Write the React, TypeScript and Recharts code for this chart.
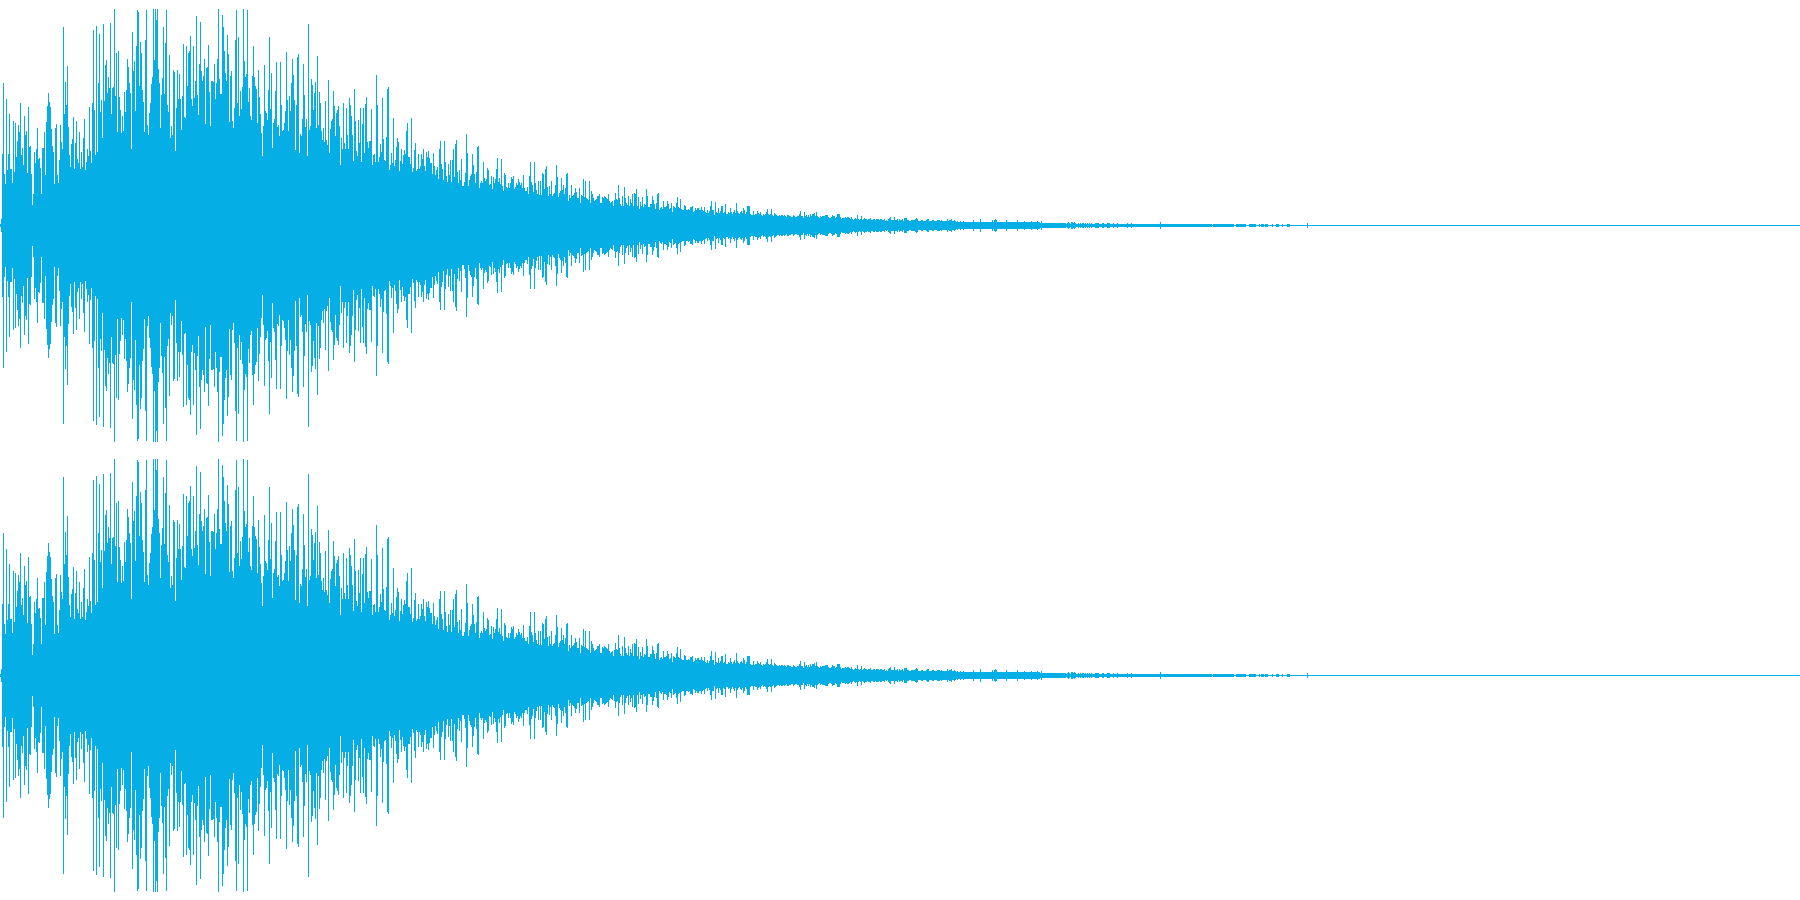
import { BarChart, Bar, XAxis, YAxis } from 'recharts';

// Peak amplitude of each pixel column. Both channels look the same.
const attack = [
  1, 6, 71, 142, 51, 41, 126, 55, 71, 111, 56, 56, 42, 104, 53, 102, 68, 84, 100, 93,
  122, 70, 77, 60, 109, 90, 94, 52, 118, 78, 79, 51, 20, 31, 73, 62, 76, 97, 66, 67,
  57, 31, 77, 77, 93, 50, 103, 119, 132, 123, 118, 96, 79, 73, 41, 97, 101, 50, 42, 65,
  100, 83, 76, 198, 111, 143, 120, 159, 98, 70, 58, 81, 86, 108, 56, 82, 104, 66, 62, 93,
  56, 73, 58, 87, 106, 55, 63, 76, 69, 118, 74, 62, 122, 195, 115, 70, 199, 73, 142, 191,
  113, 125, 87, 201, 124, 160, 165, 132, 148, 137, 202, 111, 137, 138, 216, 129, 172, 93, 174, 128,
  115, 92, 109, 94, 133, 113, 135, 166, 158, 142, 132, 76, 193, 154, 164, 114, 179, 215, 213, 139,
  183, 172, 135, 123, 93, 185, 215, 100, 90, 112,
];

const crest = [
  122, 141, 148, 216, 165, 216, 205, 216, 156, 142, 97, 130, 147, 198, 131, 182, 215, 120, 113, 170,
  87, 99, 90, 155, 153, 74, 117, 155, 126, 151, 126, 95, 129, 181, 108, 107, 179, 139, 172, 174,
  189, 126, 119, 179, 127, 144, 209, 130, 110, 161, 203, 154, 144, 149, 166, 101, 157, 158, 180, 133,
  99, 144, 144, 143, 161, 126, 142, 166, 216, 146, 131, 131, 210, 198, 174, 152, 144, 190, 171, 103,
  149, 154, 104, 97, 117, 185, 215, 122, 188, 109, 134, 116, 138, 216, 164, 148, 151, 215, 123, 137,
  109, 105, 149, 179, 148, 139, 136, 102, 155, 128, 111, 92, 69, 99, 160, 114, 112, 105, 135, 188,
  116, 152, 77, 102, 106, 134, 163, 98, 100, 89, 163, 120, 94, 95, 102, 114, 173, 125, 94, 129,
  114, 142, 166, 150, 125, 75, 120, 168, 171, 72,
];

const decay = [
  91, 89, 106, 161, 130, 98, 106, 69, 201, 95, 99, 146, 140, 115, 132, 143, 97, 169, 100, 133,
  122, 94, 85, 97, 83, 124, 85, 80, 145, 72, 96, 104, 106, 134, 119, 89, 112, 115, 119, 99,
  60, 87, 76, 122, 82, 76, 117, 90, 76, 127, 120, 109, 90, 64, 136, 104, 74, 69, 105, 82,
  117, 63, 101, 117, 72, 121, 128, 83, 77, 84, 84, 116, 60, 70, 71, 63, 150, 120, 63, 68,
  81, 73, 127, 86, 65, 64, 88, 136, 138, 55, 60, 72, 62, 107, 59, 65, 78, 87, 83, 54,
  64, 76, 61, 70, 75, 71, 94, 102, 68, 68, 61, 107, 53, 57, 75, 82, 54, 56, 71, 56,
  59, 71, 66, 76, 59, 54, 73, 68, 74, 67, 62, 62, 51, 72, 59, 50, 55, 58, 46, 76,
  84, 61, 56, 45, 84, 63, 49, 43, 61, 50,
];

const fade = [
  65, 43, 65, 76, 48, 81, 85, 53, 42, 55, 45, 66, 39, 39, 43, 52, 91, 72, 39, 45,
  49, 51, 71, 60, 51, 42, 53, 78, 79, 37, 42, 44, 42, 63, 47, 44, 46, 57, 55, 40,
  41, 49, 36, 48, 42, 46, 56, 67, 43, 47, 41, 66, 39, 34, 52, 50, 38, 37, 42, 37,
  42, 48, 46, 49, 36, 38, 42, 40, 46, 43, 40, 42, 37, 50, 37, 34, 34, 38, 31, 49,
  63, 43, 40, 33, 63, 42, 35, 31, 44, 30, 44, 30, 52, 51, 36, 56, 59, 38, 29, 39,
  31, 44, 29, 31, 32, 40, 60, 48, 28, 32, 34, 47, 35, 40, 31, 37, 51, 52, 24, 30,
  27, 40, 29, 30, 32, 37, 33, 27, 27, 37, 22, 30, 29, 46, 28, 44, 27, 26, 25, 44,
  22, 34, 31, 27, 24, 25, 26, 29, 29, 31, 22, 22, 28, 27, 29, 28, 27, 26, 31, 24,
  22, 23, 24, 19, 25, 32, 26, 25, 40, 27, 21, 19, 29, 19, 38, 27, 22, 20, 29, 19,
  26, 22, 31, 19, 32, 31, 36, 19, 28, 16, 23, 19, 28, 18, 21, 20, 36, 29, 18, 18,
];

const tailOff = [
  21, 21, 29, 25, 21, 16, 22, 31, 32, 15, 17, 18, 16, 24, 18, 18, 19, 24, 21, 16,
  17, 22, 13, 19, 18, 17, 22, 28, 18, 17, 26, 16, 15, 15, 20, 19, 15, 15, 16, 15,
  18, 18, 19, 13, 14, 17, 15, 17, 17, 15, 15, 18, 15, 14, 18, 13, 12, 15, 12, 14,
  19, 24, 15, 15, 10, 23, 13, 12, 17, 12, 14, 19, 19, 12, 13, 21, 11, 11, 13, 12,
  17, 13, 11, 13, 15, 12, 22, 14, 12, 11, 13, 14, 12, 17, 15, 11, 13, 19, 19, 19,
  11, 10, 10, 14, 10, 11, 11, 14, 12, 11, 13, 10, 9, 11, 10, 11, 13, 16, 11, 10,
  11, 16, 10, 9, 12, 11, 10, 9, 9, 10, 9, 10, 10, 9, 10, 9, 8, 10, 10, 9,
  9, 8, 8, 10, 9, 8, 8, 9, 9, 11, 14, 9, 9, 7, 13, 9, 10, 8, 10, 8,
  11, 9, 11, 11, 12, 9, 13, 9, 8, 7, 9, 8, 9, 9, 9, 10, 10, 10, 8, 7,
  7, 8, 10, 9, 9, 7, 8, 11, 11, 11, 8, 6, 7, 7, 7, 8, 7, 8, 8, 7,
];

const ringOut = [
  6, 8, 6, 5, 6, 7, 6, 10, 6, 5, 6, 9, 5, 6, 7, 6, 6, 5, 6, 6,
  7, 5, 5, 6, 6, 5, 6, 6, 6, 5, 6, 6, 5, 5, 6, 4, 5, 4, 6, 7,
  8, 5, 5, 5, 8, 5, 5, 6, 4, 6, 5, 5, 6, 4, 7, 7, 7, 5, 5, 4,
  4, 5, 5, 5, 5, 6, 7, 6, 4, 4, 4, 5, 5, 4, 4, 4, 5, 6, 6, 4,
  4, 4, 5, 5, 4, 4, 4, 5, 5, 5, 4, 5, 4, 4, 4, 4, 4, 6, 4, 5,
  5, 6, 4, 4, 5, 4, 3, 4, 3, 3, 4, 3, 3, 4, 3, 3, 3, 3, 3, 3,
  3, 3, 3, 5, 3, 3, 3, 3, 3, 3, 6, 3, 3, 3, 3, 3, 3, 3, 3, 3,
  3, 3, 5, 3, 5, 6, 5, 3, 3, 3, 3, 3, 3, 3, 3, 3, 5, 3, 3, 3,
  3, 3, 3, 3, 3, 3, 3, 5, 3, 3, 3, 3, 3, 3, 4, 3, 3, 3, 3, 3,
  3, 4, 3, 3, 3, 3, 3, 4, 3, 3, 2, 4, 2, 2, 2, 2, 2, 2, 2, 2,
];

const silence = [
  2, 2, 2, 2, 2, 2, 2, 2, 2, 2, 2, 2, 2, 2, 2, 2, 1, 2, 3, 2,
  1, 3, 3, 2, 3, 2, 1, 1, 2, 1, 2, 1, 2, 2, 1, 2, 1, 2, 1, 2,
  1, 2, 1, 1, 1, 2, 2, 2, 2, 1, 1, 1, 2, 2, 1, 1, 1, 2, 2, 2,
  1, 1, 1, 2, 1, 1, 1, 2, 1, 1, 1, 1, 1, 1, 1, 1, 1, 2, 1, 1,
  1, 2, 1, 1, 1, 1, 1, 1, 1, 1, 1, 1, 1, 1, 1, 1, 1, 1, 1, 1,
  1, 1, 1, 1, 1, 1, 1, 1, 1, 1, 3, 1, 1, 1, 1, 1, 1, 1, 1, 1,
  1, 1, 1, 1, 1, 1, 1, 1, 1, 1, 1, 1, 1, 1, 1, 1, 1, 1, 1, 1,
  1, 1, 1, 1, 1, 1, 1, 1, 1, 1, 1, 1, 1, 1, 1, 1, 1, 1, 1, 1,
  1, 1, 0, 1, 1, 1, 1, 1, 1, 1, 1, 1, 1, 1, 1, 1, 1, 1, 1, 1,
  1, 1, 1, 1, 0, 0, 1, 1, 1, 1, 1, 1, 1, 1, 1, 1, 0, 0, 0, 1,
  1, 1, 1, 1, 1, 1, 0, 0, 0, 1, 0, 1, 1, 1, 0, 1, 1, 1, 0, 0,
  0, 0, 1, 0, 0, 0, 1, 1, 1, 0, 0, 0, 1, 0, 0, 0, 0, 1, 1, 1,
  0, 0, 0, 0, 0, 0, 0, 0, 0, 0, 0, 0, 0, 0, 0, 0, 0, 2, 0, 0,
];

const channels = ['left', 'right'];
const COLUMNS = 1800;
const WAVE_COLOR = '#06aee6';

const peaks = [...attack, ...crest, ...decay, ...fade, ...tailOff, ...ringOut, ...silence];

// Each column is mirrored around zero; the half unit keeps a 1px line where the signal is silent.
const rows = Array.from({ length: COLUMNS }, (_, i) => {
  const peak = peaks[i] ?? 0;
  return { column: i, range: [-peak - 0.5, peak + 0.5] };
});

function Channel() {
  return (
    <BarChart
      width={COLUMNS}
      height={450}
      data={rows}
      margin={{ top: 0, right: 0, bottom: 0, left: 0 }}
      barCategoryGap={0}
    >
      <XAxis dataKey="column" hide />
      <YAxis hide domain={[-224.5, 225.5]} />
      <Bar
        dataKey="range"
        fill={WAVE_COLOR}
        barSize={1}
        shapeRendering="crispEdges"
        isAnimationActive={false}
      />
    </BarChart>
  );
}

export default function App() {
  return (
    <div style={{ position: 'absolute', left: 0, top: 0, width: COLUMNS, height: 900, background: '#fff' }}>
      {channels.map((name) => (
        <Channel key={name} />
      ))}
    </div>
  );
}
